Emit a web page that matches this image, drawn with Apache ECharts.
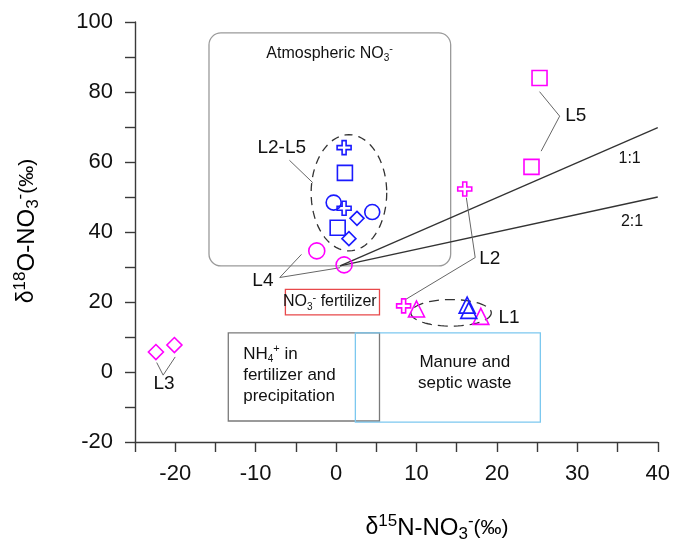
<!DOCTYPE html>
<html>
<head>
<meta charset="utf-8">
<script src="https://cdn.jsdelivr.net/npm/echarts@6/dist/echarts.min.js"></script>
<style>
  html, body { margin: 0; padding: 0; background: #fff; }
  #main { width: 673px; height: 543px; }
</style>
</head>
<body>
<div id="main"></div>
<script>
// axis ranges / ticks
var xMin = -25, xMax = 40, xStep = 5;
var yMin = -20, yMax = 100, yStep = 10;

// sample points (delta15N, delta18O)
var magentaSquare   = [[25.3, 84.0], [24.3, 58.6]];
var magentaCross    = [[16.0, 52.3], [8.4, 18.9]];
var magentaCircle   = [[-2.4, 34.6], [1.0, 30.6]];
var magentaTriangle = [[10.0, 18.0], [18.0, 15.9]];
var magentaDiamond  = [[-22.4, 5.7], [-20.1, 7.7]];
var blueCross       = [[1.0, 64.1], [1.0, 46.8]];
var blueSquare      = [[1.1, 56.9], [0.2, 41.2]];
var blueCircle      = [[-0.3, 48.4], [4.5, 45.7]];
var blueDiamond     = [[2.6, 43.9], [1.6, 38.1]];
var blueTriangle    = [[16.3, 19.1], [16.5, 17.6]];

// 1:1 and 2:1 reference lines
var line11 = [[0.5, 30.3], [40, 69.8]];
var line21 = [[0.5, 30.3], [40, 50.0]];

// leader lines for the site labels
var leaderL25 = [[-5.8, 60.5], [-2.9, 54.1]];
var leaderL4  = [[-4.3, 33.6], [-7.0, 27.0], [0.5, 29.8]];
var leaderL5  = [[25.3, 80.1], [27.8, 73.1], [25.5, 63.1]];
var leaderL2  = [[16.2, 49.8], [17.3, 32.7], [8.7, 20.8]];
var leaderL3  = [[-22.3, 2.7], [-21.5, -0.9], [-20.0, 4.3]];

// source boxes [x1, y1, x2, y2]
var atmBox    = [-15.8, 96.9, 14.25, 30.3];
var fertBox   = [-6.3, 23.6, 5.4, 16.3];
var nh4Box    = [-13.4, 11.2, 5.4, -14.0];
var manureBox = [2.4, 11.2, 25.4, -14.3];

// dashed groupings [cx, cy, rx, ry]
var ellipseL25 = [1.6, 51.2, 4.7, 16.6];
var ellipseL1  = [14.3, 16.9, 5.0, 3.8];

// annotation labels [x, y]
var labAtm    = [-0.8, 91.1];
var labL25    = [-6.75, 64.1];
var labL4     = [-9.1, 26.0];
var labL5     = [28.5, 73.1];
var lab11     = [36.5, 61.0];
var lab21     = [36.8, 43.1];
var labL2     = [17.8, 32.4];
var labL3     = [-21.4, -3.5];
var labL1     = [20.2, 15.5];
var labFert   = [-6.6, 20.0];
var labNH4    = [-11.55, -0.9];
var labManure = [16.0, -0.3];

var FONT = 'Liberation Sans, Arial, sans-serif';
var MAGENTA = '#ff00ff', BLUE = '#1a1aff';
var crossPath = 'path://M5,0H9V5H14V9H9V14H5V9H0V5H5Z';

var chart = echarts.init(document.getElementById('main'));

function pts(data, symbol, size, color) {
    return {
        type: 'scatter',
        data: data,
        symbol: symbol,
        symbolSize: size,
        z: 5,
        itemStyle: { color: 'rgba(0,0,0,0)', borderColor: color, borderWidth: 1.6, opacity: 1 },
        silent: true
    };
}

function lineSer(data, color, width) {
    return {
        type: 'line',
        data: data,
        symbol: 'none',
        z: 3,
        silent: true,
        lineStyle: { color: color, width: width },
        animation: false
    };
}

function boxSer(box, color, r, z) {
    return {
        type: 'custom',
        coordinateSystem: 'cartesian2d',
        data: [box],
        z: z,
        silent: true,
        renderItem: function(params, api) {
            var a = api.coord([api.value(0), api.value(1)]);
            var b = api.coord([api.value(2), api.value(3)]);
            return {
                type: 'rect',
                shape: { x: Math.min(a[0], b[0]), y: Math.min(a[1], b[1]),
                         width: Math.abs(b[0] - a[0]), height: Math.abs(b[1] - a[1]), r: r },
                style: { fill: 'none', stroke: color, lineWidth: 1.3 }
            };
        }
    };
}

function ellipseSer(e, dash) {
    return {
        type: 'custom',
        coordinateSystem: 'cartesian2d',
        data: [e],
        z: 4,
        silent: true,
        renderItem: function(params, api) {
            var c = api.coord([api.value(0), api.value(1)]);
            var s = api.size([api.value(2), api.value(3)]);
            var p = [];
            for (var i = 0; i < 72; i++) {
                var t = i / 72 * Math.PI * 2;
                p.push([c[0] + s[0] * Math.cos(t), c[1] + s[1] * Math.sin(t)]);
            }
            return {
                type: 'polygon',
                shape: { points: p },
                style: { fill: 'none', stroke: '#333', lineWidth: 1.3, lineDash: dash }
            };
        }
    };
}

var richSmall = {
    n:   { fontSize: 16, fontFamily: FONT, color: '#111', lineHeight: 20 },
    sub: { fontSize: 10, fontFamily: FONT, color: '#111', verticalAlign: 'bottom', lineHeight: 10 },
    sup: { fontSize: 11, fontFamily: FONT, color: '#111', verticalAlign: 'top', lineHeight: 11 },
    m:   { fontSize: 17, fontFamily: FONT, color: '#111', lineHeight: 21 }
};

function textSer(pos, text, opts) {
    opts = opts || {};
    return {
        type: 'custom',
        coordinateSystem: 'cartesian2d',
        data: [pos],
        z: 6,
        silent: true,
        renderItem: function(params, api) {
            var c = api.coord([api.value(0), api.value(1)]);
            return {
                type: 'text',
                x: c[0],
                y: c[1],
                style: {
                    text: text,
                    fill: '#111',
                    fontSize: opts.size || 19,
                    fontFamily: FONT,
                    align: opts.align || 'center',
                    verticalAlign: 'middle',
                    rich: richSmall
                }
            };
        }
    };
}

// rich styles for the two axis titles
var nameRich = {
    d: { fontSize: 23, fontFamily: FONT, color: '#111', lineHeight: 30 },
    n: { fontSize: 24, fontFamily: FONT, color: '#111', lineHeight: 30 },
    s: { fontSize: 17, fontFamily: FONT, color: '#111', verticalAlign: 'top', lineHeight: 16 },
    b: { fontSize: 17, fontFamily: FONT, color: '#111', verticalAlign: 'bottom', lineHeight: 16 },
    p: { fontSize: 21, fontFamily: FONT, color: '#111', lineHeight: 30 }
};

var axisColor = '#3a3a3a';

var option = {
    animation: false,
    grid: { left: 135, right: 14, top: 22, bottom: 101 },
    xAxis: {
        type: 'value',
        min: xMin, max: xMax, interval: xStep,
        axisLine: { onZero: false, lineStyle: { color: axisColor, width: 1.4 } },
        axisTick: { length: 10, lineStyle: { color: axisColor, width: 1.4 } },
        splitLine: { show: false },
        axisLabel: {
            margin: 21, fontSize: 22, fontFamily: FONT, color: '#111',
            formatter: function(v) { return v % 10 === 0 ? String(v) : ''; }
        }
    },
    yAxis: {
        type: 'value',
        min: yMin, max: yMax, interval: yStep,
        axisLine: { show: true, onZero: false, lineStyle: { color: axisColor, width: 1.4 } },
        axisTick: { show: true, length: 10, lineStyle: { color: axisColor, width: 1.4 } },
        splitLine: { show: false },
        axisLabel: {
            margin: 22, fontSize: 22, fontFamily: FONT, color: '#111',
            formatter: function(v) { return v % 20 === 0 ? String(v) : ''; }
        }
    },
    graphic: [
        {
            type: 'text', x: 437, y: 528, z: 10,
            style: {
                text: '{d|δ}{s|15}{n|N-NO}{b|3}{s|-}{p|(‰)}',
                align: 'center', verticalAlign: 'middle',
                rich: nameRich
            }
        },
        {
            type: 'text', x: 27, y: 231, rotation: Math.PI / 2, z: 10,
            style: {
                text: '{d|δ}{s|18}{n|O-NO}{b|3}{s|-}{p|(‰)}',
                align: 'center', verticalAlign: 'middle',
                rich: nameRich
            }
        }
    ],
    series: [
        boxSer(atmBox, '#9a9a9a', 12, 1),
        boxSer(nh4Box, '#7a7a7a', 0, 1),
        boxSer(manureBox, '#7cc8ef', 0, 1),
        boxSer(fertBox, '#e8484a', 0, 1),
        ellipseSer(ellipseL25, [8, 6]),
        ellipseSer(ellipseL1, [10, 6]),
        lineSer(line11, '#333', 1.3),
        lineSer(line21, '#333', 1.3),
        lineSer(leaderL25, '#666', 1),
        lineSer(leaderL4, '#666', 1),
        lineSer(leaderL5, '#666', 1),
        lineSer(leaderL2, '#666', 1),
        lineSer(leaderL3, '#666', 1),
        pts(magentaSquare, 'rect', 15, MAGENTA),
        pts(magentaCross, crossPath, 14, MAGENTA),
        pts(magentaCircle, 'circle', 16, MAGENTA),
        pts(magentaTriangle, 'triangle', 16, MAGENTA),
        pts(magentaDiamond, 'diamond', 15, MAGENTA),
        pts(blueCross, crossPath, 14, BLUE),
        pts(blueSquare, 'rect', 15, BLUE),
        pts(blueCircle, 'circle', 15, BLUE),
        pts(blueDiamond, 'diamond', 14, BLUE),
        pts(blueTriangle, 'triangle', 16, BLUE),
        textSer(labAtm, '{n|Atmospheric NO}{sub|3}{sup|-}'),
        textSer(labL25, 'L2-L5'),
        textSer(labL4, 'L4'),
        textSer(labL5, 'L5', { align: 'left' }),
        textSer(lab11, '1:1', { size: 16 }),
        textSer(lab21, '2:1', { size: 16 }),
        textSer(labL2, 'L2', { align: 'left' }),
        textSer(labL3, 'L3'),
        textSer(labL1, 'L1', { align: 'left' }),
        textSer(labFert, '{n|NO}{sub|3}{sup|-}{n| fertilizer}', { align: 'left' }),
        textSer(labNH4, '{m|NH}{sub|4}{sup|+}{m| in}\n{m|fertilizer and}\n{m|precipitation}', { align: 'left' }),
        textSer(labManure, '{m|Manure and}\n{m|septic waste}')
    ]
};

chart.setOption(option);
</script>
</body>
</html>
